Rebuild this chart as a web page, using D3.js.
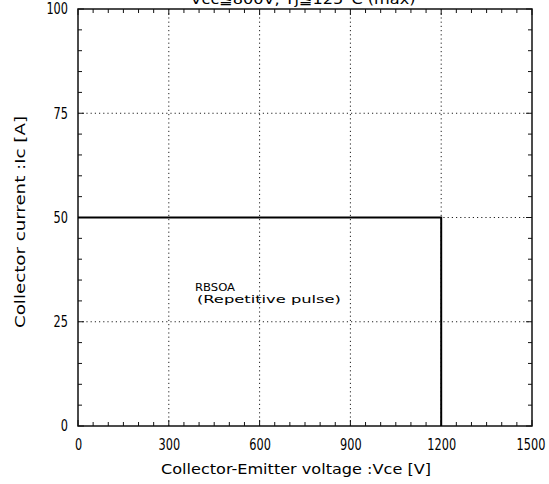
<!DOCTYPE html>
<html><head><meta charset="utf-8">
<script src="https://cdn.jsdelivr.net/npm/d3@7"></script>
<style>body{margin:0;background:#fff}svg{display:block}</style>
</head><body>
<script>
// Data
const xTicks = [0, 300, 600, 900, 1200, 1500];
const yTicks = [0, 25, 50, 75, 100];
const rbsoaV = [0, 1200, 1200];   // Vce [V]
const rbsoaI = [50, 50, 0];       // Ic [A]
const titleText = "Vcc≦800V, Tj≦125°C (max)";
const xLabel = "Collector-Emitter voltage :Vce [V]";
const yLabel = "Collector current :Ic [A]";
const noteLines = ["RBSOA", "(Repetitive pulse)"];

const W = 549, H = 484;
const m = {left: 78, right: 532, top: 9, bottom: 426};
const svg = d3.select("body").append("svg").attr("width", W).attr("height", H);
const x = d3.scaleLinear().domain([0, 1500]).range([m.left, m.right]);
const y = d3.scaleLinear().domain([0, 100]).range([m.bottom, m.top]);
const font = "'DejaVu Sans Condensed','Liberation Sans Narrow','DejaVu Sans',sans-serif";
const digitW = 7.2;

// gridlines
const g = svg.append("g");
g.selectAll(".gx").data(xTicks.slice(1, -1)).join("line")
  .attr("x1", d => x(d)).attr("x2", d => x(d)).attr("y1", m.top).attr("y2", m.bottom)
  .attr("stroke", "#222").attr("stroke-width", 1).attr("stroke-dasharray", "1.2,3");
g.selectAll(".gy").data(yTicks.slice(1, -1)).join("line")
  .attr("y1", d => y(d)).attr("y2", d => y(d)).attr("x1", m.left).attr("x2", m.right)
  .attr("stroke", "#222").attr("stroke-width", 1).attr("stroke-dasharray", "1.2,3");

// minor ticks inward
const xMinor = d3.range(0, 1501, 50), yMinor = d3.range(0, 101, 5);
const tk = svg.append("g").attr("stroke", "#111").attr("stroke-width", 1);
xMinor.forEach(v => {
  const L = v % 300 === 0 ? 6 : 4;
  tk.append("line").attr("x1", x(v)).attr("x2", x(v)).attr("y1", m.bottom).attr("y2", m.bottom - L);
  tk.append("line").attr("x1", x(v)).attr("x2", x(v)).attr("y1", m.top).attr("y2", m.top + L);
});
yMinor.forEach(v => {
  const L = v % 25 === 0 ? 6 : 4;
  tk.append("line").attr("y1", y(v)).attr("y2", y(v)).attr("x1", m.left).attr("x2", m.left + L);
  tk.append("line").attr("y1", y(v)).attr("y2", y(v)).attr("x1", m.right).attr("x2", m.right - L);
});

// frame
svg.append("rect").attr("x", m.left).attr("y", m.top).attr("width", m.right - m.left)
  .attr("height", m.bottom - m.top).attr("fill", "none").attr("stroke", "#111").attr("stroke-width", 1.5);

// axes labels via d3 axes (no lines)
const xa = svg.append("g").attr("transform", `translate(0,${m.bottom})`)
  .call(d3.axisBottom(x).tickValues(xTicks).tickSize(0).tickPadding(13).tickFormat(d3.format("d")));
xa.select(".domain").remove();
xa.selectAll("text").attr("font-family", font).attr("font-size", 15).attr("fill", "#000")
  .attr("textLength", d => String(d).length * digitW).attr("lengthAdjust", "spacingAndGlyphs");
xa.selectAll(".tick").filter(d => d === 1500).select("text").attr("dx", -1.5);
const ya = svg.append("g").attr("transform", `translate(${m.left},0)`)
  .call(d3.axisLeft(y).tickValues(yTicks).tickSize(0).tickPadding(10).tickFormat(d3.format("d")));
ya.select(".domain").remove();
ya.selectAll("text").attr("font-family", font).attr("font-size", 15).attr("fill", "#000")
  .attr("textLength", d => String(d).length * digitW).attr("lengthAdjust", "spacingAndGlyphs");

// data line
const pts = rbsoaV.map((v, i) => [x(v), y(rbsoaI[i])]);
svg.append("path").attr("d", d3.line()(pts)).attr("fill", "none").attr("stroke", "#000").attr("stroke-width", 2);

// annotation
noteLines.forEach((t, i) => {
  svg.append("text").attr("x", i === 0 ? 195 : 197).attr("y", 290.5 + i * 12).attr("font-family", font)
    .attr("font-size", 10).attr("fill", "#000")
    .attr("textLength", i === 0 ? 40 : 144).attr("lengthAdjust", "spacingAndGlyphs").text(t);
});

// titles
svg.append("text").attr("x", 296).attr("y", 474).attr("text-anchor", "middle")
  .attr("font-family", font).attr("font-size", 14).attr("fill", "#000")
  .attr("textLength", 270).attr("lengthAdjust", "spacingAndGlyphs").text(xLabel);
svg.append("text").attr("transform", "translate(25,222) rotate(-90)").attr("text-anchor", "middle")
  .attr("font-family", font).attr("font-size", 14).attr("fill", "#000")
  .attr("textLength", 212).attr("lengthAdjust", "spacingAndGlyphs").text(yLabel);
svg.append("text").attr("x", 303).attr("y", 4).attr("text-anchor", "middle")
  .attr("font-family", font).attr("font-size", 14).attr("fill", "#000")
  .attr("textLength", 225).attr("lengthAdjust", "spacingAndGlyphs").text(titleText);
</script>
</body></html>
